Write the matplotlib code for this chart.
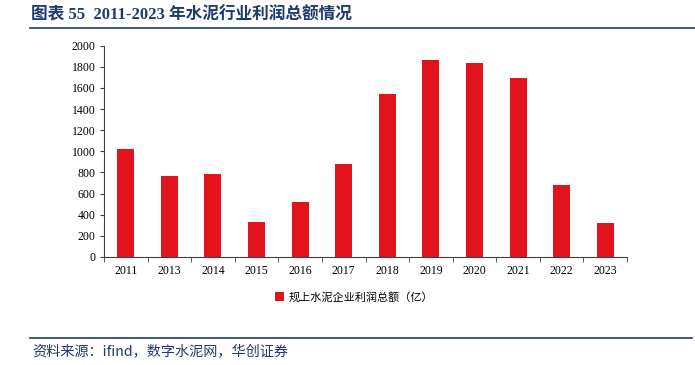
import matplotlib
matplotlib.use("Agg")
import matplotlib.pyplot as plt
from matplotlib.lines import Line2D
from matplotlib.patches import Patch

plt.rcParams['font.family'] = ['Liberation Serif', 'Noto Sans CJK SC', 'DejaVu Sans']

years = ['2011', '2013', '2014', '2015', '2016', '2017',
         '2018', '2019', '2020', '2021', '2022', '2023']
profit = [1020, 767, 783, 328, 518, 878, 1547, 1866, 1834, 1692, 679, 322]
series_name = '规上水泥企业利润总额（亿）'
title = '图表 55  2011-2023 年水泥行业利润总额情况'
source = '资料来源：ifind，数字水泥网，华创证券'

red = '#E3131E'
navy = '#1F3A6E'

fig = plt.figure(figsize=(6.95, 3.65), dpi=100)
ax = fig.add_axes([0.1496, 0.2959, 0.7526, 0.5789])

x = range(len(years))
ax.bar(x, profit, width=0.39, color=red, edgecolor='none')

ax.set_xlim(-0.5, len(years) - 0.5)
ax.set_ylim(0, 2000)
ax.set_yticks(range(0, 2001, 200))
ax.set_xticks(list(x))
ax.set_xticklabels(years)
ax.set_xticks([i - 0.5 for i in range(len(years) + 1)], minor=True)
ax.tick_params(axis='x', which='major', length=0, pad=6, labelsize=8.5)
ax.tick_params(axis='x', which='minor', length=3.5, direction='out', color='#404040')
ax.tick_params(axis='y', length=3, direction='out', color='#404040', labelsize=8.5, pad=3)

for s in ['top', 'right']:
    ax.spines[s].set_visible(False)
for s in ['left', 'bottom']:
    ax.spines[s].set_color('#404040')
    ax.spines[s].set_linewidth(0.8)

handle = Patch(facecolor=red, edgecolor='none')
fig.legend([handle], [series_name], loc='center', bbox_to_anchor=(0.51, 0.186),
           frameon=False, handlelength=0.8, handleheight=0.8,
           handletextpad=0.4, prop={'family': ['Noto Sans CJK SC'], 'size': 8})

fig.text(0.045, 0.958, title, fontsize=12, fontweight='bold', color=navy,
         ha='left', va='center')
fig.add_artist(Line2D([0.043, 1.0], [0.923, 0.923], transform=fig.transFigure,
                      color=navy, linewidth=1.2))
fig.add_artist(Line2D([0.043, 0.995], [0.074, 0.074], transform=fig.transFigure,
                      color=navy, linewidth=1.2))
fig.text(0.046, 0.034, source, fontsize=10.2, color=navy, ha='left', va='center',
         family=['Noto Sans CJK SC'], style='italic')

fig.savefig('out.png', dpi=100)
